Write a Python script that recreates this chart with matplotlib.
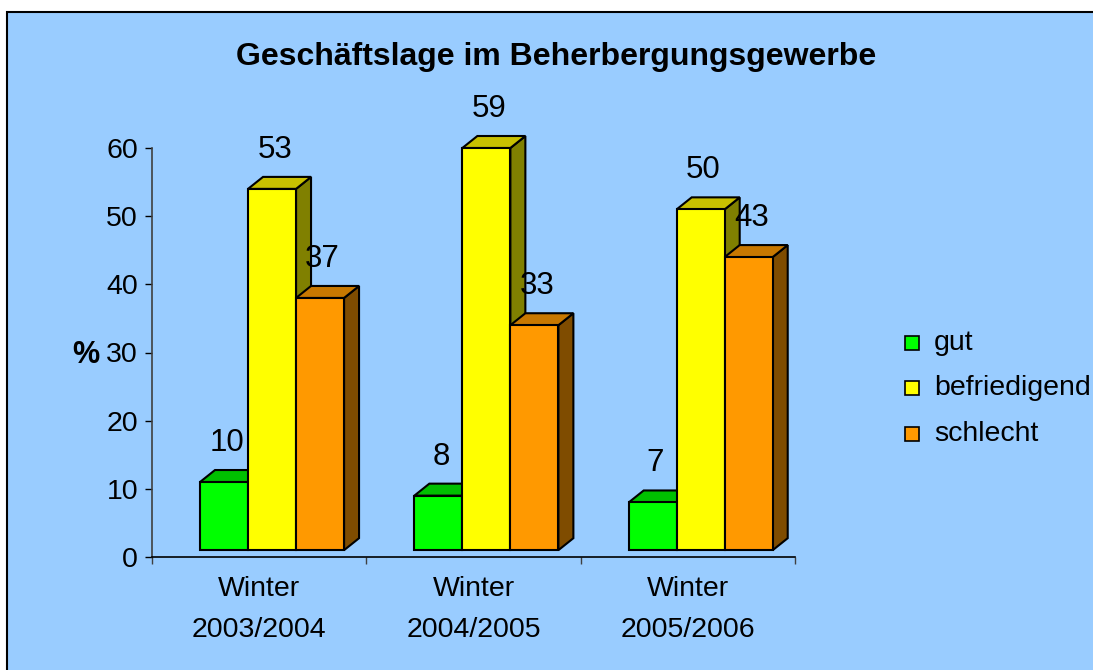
import matplotlib
matplotlib.use("Agg")
import matplotlib.pyplot as plt
from matplotlib.patches import Polygon, Rectangle

plt.rcParams['font.family'] = ['Liberation Sans', 'DejaVu Sans']

categories = ["Winter\n2003/2004", "Winter\n2004/2005", "Winter\n2005/2006"]
series_names = ["gut", "befriedigend", "schlecht"]
gut = [10, 8, 7]
befriedigend = [53, 59, 50]
schlecht = [37, 33, 43]
series_values = [gut, befriedigend, schlecht]
front_colors = ["#00FF00", "#FFFF00", "#FF9900"]
top_colors = ["#00C000", "#C8C000", "#C87800"]
side_colors = ["#008000", "#808000", "#7F4C00"]
yticks = [0, 10, 20, 30, 40, 50, 60]

W, H = 1093, 670
fig = plt.figure(figsize=(W / 100, H / 100), dpi=100)
fig.patch.set_facecolor("white")

# chart area background with border
bg = Rectangle((7 / W, -0.05), 1.1, 1 - 12 / H + 0.05, transform=fig.transFigure,
               facecolor="#99CCFF", edgecolor="black", linewidth=1.5, zorder=-5)
fig.patches.append(bg)

ax = fig.add_axes([152 / W, 1 - 557 / H, 643 / W, 409 / H])
ax.set_facecolor("none")
ax.set_zorder(2)
ax.set_xlim(0, 3)
ax.set_ylim(0, 60)

bar_w = 0.224
first_off = 0.224
dx = 0.07
dy = 1.76
base = 1.0

for i in range(len(categories)):
    for j, vals in enumerate(series_values):
        v = vals[i]
        x0 = i + first_off + j * bar_w
        b = base
        t = base + v
        front = Rectangle((x0, b), bar_w, v, facecolor=front_colors[j],
                          edgecolor="black", linewidth=1.5, clip_on=False, zorder=3 + j)
        top = Polygon([(x0, t), (x0 + bar_w, t), (x0 + bar_w + dx, t + dy), (x0 + dx, t + dy)],
                      closed=True, facecolor=top_colors[j], edgecolor="black",
                      linewidth=1.5, clip_on=False, zorder=3 + j)
        side = Polygon([(x0 + bar_w, b), (x0 + bar_w + dx, b + dy), (x0 + bar_w + dx, t + dy),
                        (x0 + bar_w, t)], closed=True, facecolor=side_colors[j],
                       edgecolor="black", linewidth=1.5, clip_on=False, zorder=3 + j)
        ax.add_patch(side)
        ax.add_patch(top)
        ax.add_patch(front)
        ax.annotate(str(v), xy=(x0 + bar_w / 2 + 0.012, t + dy), xytext=(0, 19.5),
                    textcoords="offset points", ha="center", va="center",
                    fontsize=22.5, annotation_clip=False, zorder=10)

ax.set_yticks(yticks)
ax.set_yticklabels([str(y) for y in yticks], fontsize=20.5)
ax.tick_params(axis="y", direction="out", length=5, width=1, pad=5, colors="black")
ax.spines["left"].set_color("#404040")
ax.spines["left"].set_linewidth(1.2)
ax.spines["bottom"].set_color("black")
ax.spines["bottom"].set_linewidth(1.2)
for s in ["top", "right"]:
    ax.spines[s].set_visible(False)

ax.set_xticks([0, 1, 2, 3])
ax.set_xticklabels([])
ax.tick_params(axis="x", which="major", direction="out", length=5, width=1, color="#404040")
ax.set_xticks([i + 0.5 for i in range(len(categories))], minor=True)
ax.set_xticklabels(categories, minor=True, fontsize=20.5, linespacing=1.75)
ax.tick_params(axis="x", which="minor", length=0, pad=14)

fig.text(86 / W, 1 - 355 / H, "%", fontsize=22, fontweight="bold", ha="center", va="center")
fig.text(556 / W, 1 - 57 / H, "Geschäftslage im Beherbergungsgewerbe", fontsize=23,
         fontweight="bold", ha="center", va="center")

# legend
leg_y = [343, 388, 434]
for j, name in enumerate(series_names):
    fig.patches.append(Rectangle((905 / W, 1 - (leg_y[j] + 7) / H), 14 / W, 14 / H,
                                 transform=fig.transFigure, facecolor=front_colors[j],
                                 edgecolor="black", linewidth=1.2, zorder=1))
    fig.text(934 / W, 1 - leg_y[j] / H, name, fontsize=20.5, ha="left", va="center")

fig.savefig("out.png", dpi=100)
